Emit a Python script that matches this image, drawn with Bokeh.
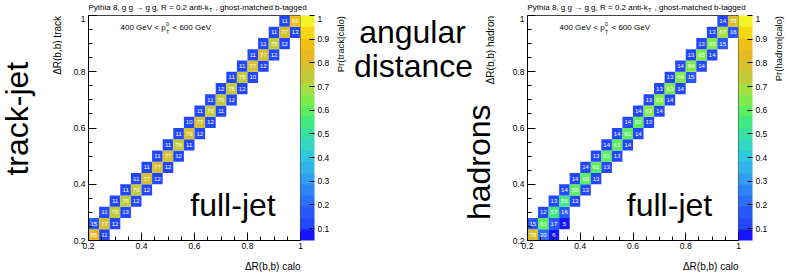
from bokeh.plotting import figure
from bokeh.layouts import row, column
from bokeh.models import ColumnDataSource, LinearColorMapper, ColorBar, FixedTicker, Label, Range1d
from bokeh.core.properties import value
from bokeh.embed import file_html
from bokeh.resources import INLINE

# ---------------- data ----------------
dr_edges = [0.20, 0.24, 0.28, 0.32, 0.36, 0.40, 0.44, 0.48, 0.52, 0.56, 0.60,
            0.64, 0.68, 0.72, 0.76, 0.80, 0.84, 0.88, 0.92, 0.96, 1.00]

axis_ticks = [0.2, 0.4, 0.6, 0.8, 1.0]
axis_tick_labels = ["0.2", "0.4", "0.6", "0.8", "1"]
axis_minor_ticks = [0.25, 0.3, 0.35, 0.45, 0.5, 0.55, 0.65, 0.7, 0.75, 0.85, 0.9, 0.95]
cbar_ticks = [0.1, 0.2, 0.3, 0.4, 0.5, 0.6, 0.7, 0.8, 0.9, 1.0]
cbar_tick_labels = ["0.1", "0.2", "0.3", "0.4", "0.5", "0.6", "0.7", "0.8", "0.9", "1"]

# track-jet vs calo (bin indices and percentage)
track_calo_bin = [0, 1, 0, 1, 2, 1, 2, 3, 2, 3, 4, 3, 4, 5, 4, 5, 6, 5, 6, 7, 6, 7, 8,
                  7, 8, 9, 8, 9, 10, 9, 10, 11, 10, 11, 12, 11, 12, 13, 12, 13, 14,
                  13, 14, 15, 14, 15, 16, 15, 16, 17, 16, 17, 18, 17, 18, 19, 18, 19]
track_track_bin = [0, 0, 1, 1, 1, 2, 2, 2, 3, 3, 3, 4, 4, 4, 5, 5, 5, 6, 6, 6, 7, 7, 7,
                   8, 8, 8, 9, 9, 9, 10, 10, 10, 11, 11, 11, 12, 12, 12, 13, 13, 13,
                   14, 14, 14, 15, 15, 15, 16, 16, 16, 17, 17, 17, 18, 18, 18, 19, 19]
track_pct = [85, 11, 15, 77, 12, 11, 76, 13, 11, 76, 12, 11, 76, 12, 11, 77, 12, 11, 77, 12,
             11, 77, 12, 11, 76, 11, 11, 79, 12, 10, 77, 12, 11, 76, 11, 11, 76, 12,
             12, 76, 12, 11, 75, 10, 11, 77, 12, 11, 77, 12, 11, 75, 12, 11, 77, 13, 11, 86]

# hadrons vs calo
hadron_calo_bin = [0, 1, 2, 0, 1, 2, 3, 1, 2, 3, 2, 3, 4, 3, 4, 5, 4, 5, 6, 5, 6, 7,
                   6, 7, 8, 7, 8, 9, 8, 9, 10, 9, 10, 11, 10, 11, 12, 11, 12, 13,
                   12, 13, 14, 13, 14, 15, 14, 15, 16, 15, 16, 17, 16, 17, 18, 17, 18, 19, 18, 19]
hadron_hadron_bin = [0, 0, 0, 1, 1, 1, 1, 2, 2, 2, 3, 3, 3, 4, 4, 4, 5, 5, 5, 6, 6, 6,
                     7, 7, 7, 8, 8, 8, 9, 9, 9, 10, 10, 10, 11, 11, 11, 12, 12, 12,
                     13, 13, 13, 14, 14, 14, 15, 15, 15, 16, 16, 16, 17, 17, 17, 18, 18, 18, 19, 19]
hadron_pct = [78, 20, 6, 15, 61, 17, 5, 12, 57, 16, 13, 56, 13, 14, 58, 13, 14, 60, 13,
              14, 61, 13, 13, 61, 13, 14, 61, 14, 14, 61, 14, 14, 61, 13, 14, 63, 14,
              13, 63, 14, 13, 63, 14, 13, 64, 15, 14, 64, 14, 13, 65, 14, 13, 65, 15,
              13, 67, 16, 14, 79]

palette20 = ["#1414ff", "#2346ff", "#2858fb", "#2c6ef8", "#2e86f6", "#309ef2",
             "#30b4ea", "#30c8dc", "#32d8c2", "#38e0a2", "#42e882", "#5cee5e",
             "#80ec4c", "#a4e042", "#c2cc3a", "#d6c030", "#e8b822", "#f0c016",
             "#f6d812", "#f2f428"]

FONT = "Liberation Sans"
TOP_H = 15          # strip above the panels
ROW_H = 243         # panels row
BOT_H = 15          # strip below the panels
FRAME_TOP = 15      # page y of frame top
FRAME_BOTTOM = 240  # page y of frame bottom
FRAME_H = FRAME_BOTTOM - FRAME_TOP
SHIFT_H = 10        # anchor-to-baseline correction, horizontal 32px texts
SHIFT_V = 15        # anchor-to-baseline correction, rotated 32px texts

mapper = LinearColorMapper(palette=palette20, low=0.05, high=1.0)


def add_label(p, text, x, y, size, align="left", baseline="middle", angle=0):
    p.add_layout(Label(x=x, y=y, text=text, text_font=FONT, text_font_size=size,
                       text_align=align, text_baseline=baseline, angle=angle,
                       angle_units="deg", text_color="black"))


def text_fig(width, height, x0, y0):
    """Blank figure whose data coordinates are page pixels (for free text)."""
    f = figure(width=width, height=height, title=None,
               x_range=Range1d(x0, x0 + width), y_range=Range1d(y0 + height, y0),
               x_axis_location=None, y_axis_location=None,
               min_border=0, output_backend="svg", toolbar_location=None)
    f.grid.visible = False
    f.outline_line_color = None
    f.background_fill_color = "white"
    f.border_fill_color = "white"
    return f


def make_panel(width, fig_page_x, border_left, frame_w, calo_bin, other_bin, pct, fulljet_cx):
    frame_left = fig_page_x + border_left

    def px(page_x):
        return 0.2 + (page_x - frame_left) * 0.8 / frame_w

    def py(page_y):
        return 0.2 + (FRAME_BOTTOM - page_y) * 0.8 / FRAME_H

    src = ColumnDataSource(dict(
        left=[dr_edges[i] for i in calo_bin],
        right=[dr_edges[i + 1] for i in calo_bin],
        bottom=[dr_edges[j] for j in other_bin],
        top=[dr_edges[j + 1] for j in other_bin],
        xc=[(dr_edges[i] + dr_edges[i + 1]) / 2 for i in calo_bin],
        yc=[(dr_edges[j] + dr_edges[j + 1]) / 2 for j in other_bin],
        frac=[v / 100 for v in pct],
        txt=[str(v) for v in pct],
    ))
    p = figure(width=width, height=ROW_H, title=None,
               x_range=Range1d(0.2, 1.0), y_range=Range1d(0.2, 1.0),
               output_backend="svg", toolbar_location=None,
               min_border_left=border_left, min_border_right=width - border_left - frame_w,
               min_border_top=0, min_border_bottom=ROW_H - FRAME_H)
    p.background_fill_color = "white"
    p.border_fill_color = "white"
    p.outline_line_color = "#444444"
    p.grid.visible = False

    p.quad(left="left", right="right", bottom="bottom", top="top", source=src,
           fill_color={"field": "frac", "transform": mapper}, line_color=None)
    p.text(x="xc", y="yc", text="txt", source=src, text_color="white",
           text_font=value(FONT), text_font_size="6px",
           text_align="center", text_baseline="middle")

    overrides = {t: l for t, l in zip(axis_ticks, axis_tick_labels)}
    for ax in (p.xaxis[0], p.yaxis[0]):
        ax.ticker = FixedTicker(ticks=axis_ticks, minor_ticks=axis_minor_ticks)
        ax.major_label_overrides = overrides
        ax.axis_line_color = "black"
        ax.major_tick_line_color = "black"
        ax.minor_tick_line_color = "black"
        ax.major_tick_in = 8
        ax.major_tick_out = 0
        ax.minor_tick_in = 4
        ax.minor_tick_out = 0
        ax.major_label_text_font = FONT
        ax.major_label_text_font_size = "8.5px"
        ax.major_label_text_color = "black"
    p.yaxis.major_label_standoff = 3
    p.xaxis.major_label_standoff = 2

    cb = ColorBar(color_mapper=mapper, ticker=FixedTicker(ticks=cbar_ticks),
                  major_label_overrides={t: l for t, l in zip(cbar_ticks, cbar_tick_labels)},
                  width=14, height=FRAME_H, padding=0, margin=2, location="top_left",
                  label_standoff=3, major_label_text_font=FONT,
                  major_label_text_font_size="8.5px", major_label_text_color="black",
                  major_tick_line_color="black", major_tick_in=5, major_tick_out=0,
                  minor_tick_line_color=None, bar_line_color=None,
                  background_fill_color=None, border_line_color=None)
    p.add_layout(cb, "right")

    fl = frame_left
    add_label(p, "400 GeV < p", px(fl + 32), py(27), "8px")
    add_label(p, "0", px(fl + 77.5), py(23), "5.5px")
    add_label(p, "T", px(fl + 77.5), py(31), "5.5px")
    add_label(p, "< 600 GeV", px(fl + 84), py(27), "8px")
    add_label(p, "full-jet", px(fulljet_cx), py(215 - SHIFT_H - 1), "32px",
              align="center", baseline="alphabetic")
    return p


# ---------------- layout (page pixel positions) ----------------
W_A, W_L, W_M, W_R = 62, 272, 167, 270
X_L = W_A
X_M = X_L + W_L
X_R = X_M + W_M
X_Z = X_R + W_R
W_Z = 789 - X_Z

fig_a = text_fig(W_A, ROW_H, 0, TOP_H)
add_label(fig_a, "track-jet", 31 - SHIFT_V, 65, "32px", align="right",
          baseline="alphabetic", angle=90)
add_label(fig_a, "\u0394R(b,b) track", 57, 15.5, "10px", align="right", angle=90)

p_left = make_panel(W_L, X_L, 88 - X_L, 212, track_calo_bin, track_track_bin, track_pct, 232.5)

fig_m = text_fig(W_M, ROW_H, X_M, TOP_H)
add_label(fig_m, "Pr(track|calo)", 340, 15.5, "9.5px", align="right", angle=90)
add_label(fig_m, "angular", 412, 43 - SHIFT_H, "32px", align="center", baseline="alphabetic")
add_label(fig_m, "distance", 413, 80 - SHIFT_H, "32px", align="center", baseline="alphabetic")
add_label(fig_m, "hadrons", 493 - SHIFT_V, 111, "32px", align="right",
          baseline="alphabetic", angle=90)
add_label(fig_m, "\u0394R(b,b) hadron", 490, 15.5, "10px", align="right", angle=90)

p_right = make_panel(W_R, X_R, 527 - X_R, 211, hadron_calo_bin, hadron_hadron_bin, hadron_pct, 669)

fig_z = text_fig(W_Z, ROW_H, X_Z, TOP_H)
add_label(fig_z, "Pr(hadron|calo)", 778, 15.5, "9.5px", align="right", angle=90)

top = text_fig(789, TOP_H, 0, 0)
for fl in (88, 527):
    add_label(top, "Pythia 8, g g \u2192 g g, R = 0.2 anti-k", fl, 6.5, "8px")
    add_label(top, "T", fl + 120.5, 9.5, "5.5px")
    add_label(top, ", ghost-matched b-tagged", fl + 127, 6.5, "8px")

bottom = text_fig(789, BOT_H, 0, TOP_H + ROW_H)
add_label(bottom, "\u0394R(b,b) calo", 300, 266, "10px", align="right")
add_label(bottom, "\u0394R(b,b) calo", 738, 266, "10px", align="right")

layout = column(top, row(fig_a, p_left, fig_m, p_right, fig_z), bottom)
open("out.html", "w").write(file_html(layout, INLINE, "chart"))
